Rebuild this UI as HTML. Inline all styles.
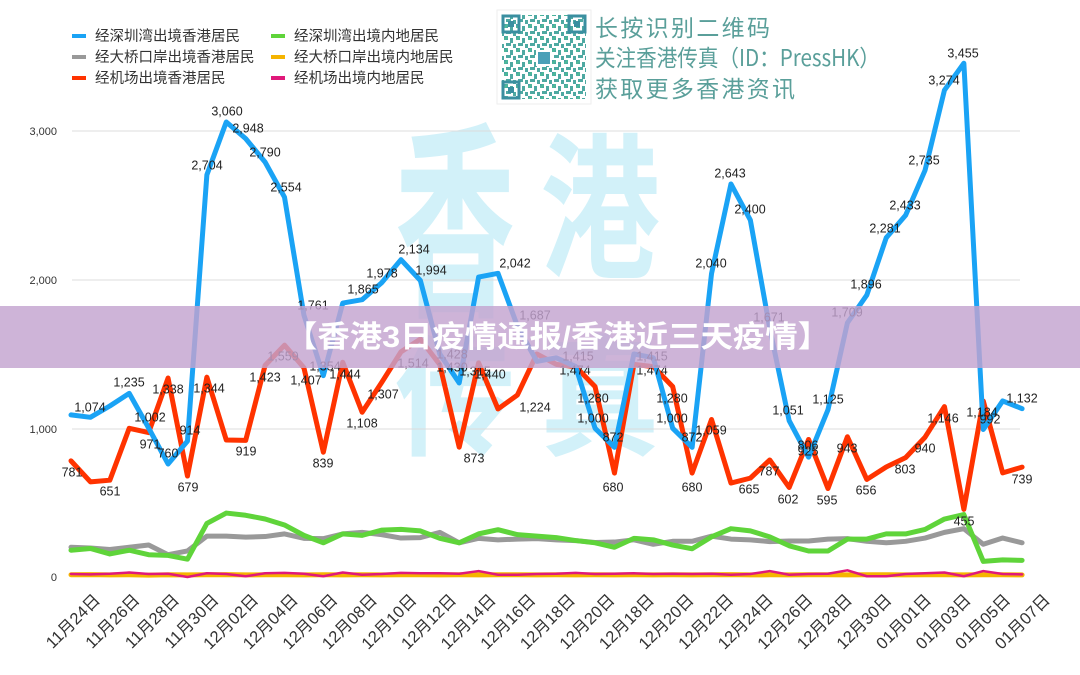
<!DOCTYPE html>
<html><head><meta charset="utf-8"><style>
html,body{margin:0;padding:0;background:#fff;}
svg{display:block;}
text{font-family:"Liberation Sans","Noto Sans CJK SC",sans-serif;}
.dl{font-size:12.5px;fill:#222;text-anchor:middle;dominant-baseline:middle;}
.xl{font-size:16.5px;fill:#333;text-anchor:end;}
.lg{font-size:14.5px;fill:#333;dominant-baseline:middle;}
</style></head><body>
<svg width="1080" height="675" viewBox="0 0 1080 675" xmlns="http://www.w3.org/2000/svg">
<rect width="1080" height="675" fill="#fff"/>
<g fill="#d2f1f9" font-weight="700">
<text x="0" y="0" font-size="120" transform="translate(395,300) scale(1,1.75)" style="font-family:'Noto Sans CJK SC',sans-serif">香</text>
<text x="0" y="0" font-size="120" transform="translate(540,265) scale(1,1.3)" style="font-family:'Noto Sans CJK SC',sans-serif">港</text>
<text x="0" y="0" font-size="120" transform="translate(395,445) scale(1,1.1)" style="font-family:'Noto Sans CJK SC',sans-serif">传</text>
<text x="0" y="0" font-size="120" transform="translate(540,445) scale(1,1.1)" style="font-family:'Noto Sans CJK SC',sans-serif">真</text>
</g>
<g stroke="#dcdcdc" stroke-width="1">
<line x1="72" y1="131" x2="1020" y2="131"/>
<line x1="72" y1="280" x2="1020" y2="280"/>
<line x1="72" y1="429" x2="1020" y2="429"/>
</g>
<g font-size="11" fill="#333" text-anchor="end">
<text x="57" y="135">3,000</text>
<text x="57" y="284">2,000</text>
<text x="57" y="433">1,000</text>
<text x="57" y="581">0</text>
</g>
<g transform="translate(71,577) scale(19.41,-0.1487)" fill="none" stroke-linejoin="round" stroke-linecap="round">
<polyline vector-effect="non-scaling-stroke" stroke="#f5b400" stroke-width="5" points="0,15 1,16 2,14 3,15 4,13 5,15 6,14 7,15 8,16 9,14 10,15 11,15 12,14 13,15 14,14 15,15 16,14 17,15 18,15 19,14 20,15 21,14 22,15 23,15 24,14 25,15 26,14 27,15 28,14 29,15 30,14 31,15 32,14 33,15 34,16 35,14 36,15 37,14 38,15 39,15 40,14 41,15 42,15 43,14 44,15 45,15 46,14 47,15 48,15 49,14"/>
<polyline vector-effect="non-scaling-stroke" stroke="#e0197a" stroke-width="2.5" points="0,20 1,18 2,22 3,30 4,20 5,22 6,0 7,25 8,20 9,5 10,25 11,28 12,22 13,5 14,30 15,15 16,20 17,28 18,25 19,25 20,22 21,40 22,15 23,15 24,20 25,22 26,28 27,20 28,22 29,25 30,20 31,22 32,20 33,22 34,15 35,20 36,40 37,15 38,20 39,22 40,45 41,5 42,5 43,20 44,25 45,30 46,5 47,40 48,20 49,18"/>
<polyline vector-effect="non-scaling-stroke" stroke="#999999" stroke-width="5" points="0,200 1,195 2,185 3,200 4,215 5,150 6,175 7,275 8,275 9,268 10,272 11,290 12,260 13,258 14,290 15,300 16,285 17,262 18,265 19,300 20,230 21,260 22,250 23,255 24,258 25,250 26,245 27,232 28,235 29,250 30,220 31,240 32,240 33,275 34,255 35,250 36,238 37,242 38,242 39,255 40,258 41,240 42,230 43,240 44,262 45,300 46,325 47,220 48,262 49,230"/>
<polyline vector-effect="non-scaling-stroke" stroke="#5fd43a" stroke-width="5" points="0,180 1,192 2,155 3,180 4,150 5,145 6,120 7,360 8,430 9,415 10,390 11,350 12,280 13,230 14,290 15,280 16,315 17,320 18,310 19,260 20,230 21,290 22,318 23,285 24,275 25,265 26,245 27,230 28,200 29,260 30,250 31,215 32,190 33,270 34,325 35,310 36,270 37,210 38,175 39,175 40,255 41,255 42,290 43,290 44,320 45,390 46,420 47,105 48,115 49,112"/>
<polyline vector-effect="non-scaling-stroke" stroke="#ff3300" stroke-width="5" points="0,781 1,640 2,651 3,1000 4,971 5,1338 6,679 7,1344 8,921 9,919 10,1423 11,1559 12,1407 13,839 14,1444 15,1108 16,1307 17,1514 18,1600 19,1428 20,873 21,1440 22,1130 23,1224 24,1500 25,1430 26,1415 27,1280 28,699 29,1430 30,1415 31,1280 32,699 33,1059 34,632 35,665 36,787 37,602 38,925 39,595 40,943 41,656 42,740 43,803 44,940 45,1146 46,455 47,1184 48,700 49,739"/>
<polyline vector-effect="non-scaling-stroke" stroke="#1aa3f5" stroke-width="5" points="0,1090 1,1074 2,1150 3,1235 4,1002 5,760 6,914 7,2704 8,3060 9,2948 10,2790 11,2554 12,1761 13,1354 14,1842 15,1865 16,1978 17,2134 18,1994 19,1500 20,1305 21,2017 22,2042 23,1687 24,1450 25,1474 26,1415 27,1000 28,872 29,1500 30,1474 31,1000 32,872 33,2040 34,2643 35,2400 36,1671 37,1051 38,806 39,1125 40,1709 41,1896 42,2281 43,2433 44,2735 45,3274 46,3455 47,992 48,1184 49,1132"/>
</g>
<g class="dl">
<text class="dl" x="90" y="408">1,074</text><text class="dl" x="129" y="383">1,235</text><text class="dl" x="150" y="418">1,002</text>
<text class="dl" x="168" y="390">1,338</text><text class="dl" x="150" y="445">971</text><text class="dl" x="168" y="454">760</text>
<text class="dl" x="190" y="431">914</text><text class="dl" x="209" y="389">1,344</text><text class="dl" x="72" y="473">781</text>
<text class="dl" x="110" y="492">651</text><text class="dl" x="188" y="488">679</text><text class="dl" x="246" y="452">919</text>
<text class="dl" x="265" y="378">1,423</text><text class="dl" x="306" y="381">1,407</text><text class="dl" x="323" y="464">839</text>
<text class="dl" x="345" y="375">1,444</text><text class="dl" x="362" y="424">1,108</text><text class="dl" x="383" y="395">1,307</text>
<text class="dl" x="474" y="459">873</text><text class="dl" x="490" y="375">1,440</text><text class="dl" x="535" y="408">1,224</text>
<text class="dl" x="283" y="357">1,559</text><text class="dl" x="325" y="367">1,354</text><text class="dl" x="413" y="364">1,514</text>
<text class="dl" x="452" y="355">1,428</text><text class="dl" x="452" y="368">1,430</text><text class="dl" x="475" y="372">1,315</text>
<text class="dl" x="227" y="112">3,060</text><text class="dl" x="248" y="129">2,948</text><text class="dl" x="265" y="153">2,790</text>
<text class="dl" x="207" y="166">2,704</text><text class="dl" x="286" y="188">2,554</text><text class="dl" x="414" y="250">2,134</text>
<text class="dl" x="382" y="274">1,978</text><text class="dl" x="431" y="271">1,994</text><text class="dl" x="363" y="290">1,865</text>
<text class="dl" x="515" y="264">2,042</text><text class="dl" x="313" y="306">1,761</text><text class="dl" x="535" y="316">1,687</text>
<text class="dl" x="730" y="174">2,643</text><text class="dl" x="750" y="210">2,400</text><text class="dl" x="711" y="264">2,040</text>
<text class="dl" x="866" y="285">1,896</text><text class="dl" x="885" y="229">2,281</text><text class="dl" x="905" y="206">2,433</text>
<text class="dl" x="924" y="161">2,735</text><text class="dl" x="944" y="81">3,274</text><text class="dl" x="963" y="54">3,455</text>
<text class="dl" x="847" y="313">1,709</text><text class="dl" x="769" y="318">1,671</text>
<text class="dl" x="578" y="357">1,415</text><text class="dl" x="575" y="371">1,474</text><text class="dl" x="593" y="399">1,280</text>
<text class="dl" x="593" y="419">1,000</text><text class="dl" x="613" y="438">872</text><text class="dl" x="613" y="488">680</text>
<text class="dl" x="652" y="357">1,415</text><text class="dl" x="652" y="371">1,474</text><text class="dl" x="672" y="399">1,280</text>
<text class="dl" x="672" y="419">1,000</text><text class="dl" x="692" y="438">872</text><text class="dl" x="692" y="488">680</text>
<text class="dl" x="711" y="431">1,059</text><text class="dl" x="749" y="490">665</text><text class="dl" x="769" y="472">787</text>
<text class="dl" x="788" y="500">602</text><text class="dl" x="788" y="411">1,051</text><text class="dl" x="808" y="446">806</text>
<text class="dl" x="808" y="452">925</text><text class="dl" x="828" y="400">1,125</text><text class="dl" x="827" y="501">595</text>
<text class="dl" x="847" y="449">943</text><text class="dl" x="866" y="491">656</text><text class="dl" x="905" y="470">803</text>
<text class="dl" x="925" y="449">940</text><text class="dl" x="943" y="419">1,146</text><text class="dl" x="964" y="522">455</text>
<text class="dl" x="982" y="413">1,184</text><text class="dl" x="990" y="420">992</text><text class="dl" x="1022" y="399">1,132</text>
<text class="dl" x="1022" y="480">739</text>
</g>
<g>
<text class="xl" transform="translate(101,601) rotate(-45)">11月24日</text>
<text class="xl" transform="translate(140.6,601) rotate(-45)">11月26日</text>
<text class="xl" transform="translate(180.2,601) rotate(-45)">11月28日</text>
<text class="xl" transform="translate(219.7,601) rotate(-45)">11月30日</text>
<text class="xl" transform="translate(259.3,601) rotate(-45)">12月02日</text>
<text class="xl" transform="translate(298.9,601) rotate(-45)">12月04日</text>
<text class="xl" transform="translate(338.5,601) rotate(-45)">12月06日</text>
<text class="xl" transform="translate(378.1,601) rotate(-45)">12月08日</text>
<text class="xl" transform="translate(417.6,601) rotate(-45)">12月10日</text>
<text class="xl" transform="translate(457.2,601) rotate(-45)">12月12日</text>
<text class="xl" transform="translate(496.8,601) rotate(-45)">12月14日</text>
<text class="xl" transform="translate(536.4,601) rotate(-45)">12月16日</text>
<text class="xl" transform="translate(576,601) rotate(-45)">12月18日</text>
<text class="xl" transform="translate(615.5,601) rotate(-45)">12月20日</text>
<text class="xl" transform="translate(655.1,601) rotate(-45)">12月18日</text>
<text class="xl" transform="translate(694.7,601) rotate(-45)">12月20日</text>
<text class="xl" transform="translate(734.3,601) rotate(-45)">12月22日</text>
<text class="xl" transform="translate(773.9,601) rotate(-45)">12月24日</text>
<text class="xl" transform="translate(813.4,601) rotate(-45)">12月26日</text>
<text class="xl" transform="translate(853,601) rotate(-45)">12月28日</text>
<text class="xl" transform="translate(892.6,601) rotate(-45)">12月30日</text>
<text class="xl" transform="translate(932.2,601) rotate(-45)">01月01日</text>
<text class="xl" transform="translate(971.8,601) rotate(-45)">01月03日</text>
<text class="xl" transform="translate(1011.3,601) rotate(-45)">01月05日</text>
<text class="xl" transform="translate(1050.9,601) rotate(-45)">01月07日</text>
</g>
<g stroke-width="4">
<line x1="72" y1="36" x2="86" y2="36" stroke="#1aa3f5"/>
<line x1="72" y1="57" x2="86" y2="57" stroke="#999"/>
<line x1="72" y1="78" x2="86" y2="78" stroke="#ff3300"/>
<line x1="271" y1="36" x2="285" y2="36" stroke="#5fd43a"/>
<line x1="271" y1="57" x2="285" y2="57" stroke="#f5b400"/>
<line x1="271" y1="78" x2="285" y2="78" stroke="#e0197a"/>
</g>
<text class="lg" x="95" y="37">经深圳湾出境香港居民</text>
<text class="lg" x="95" y="58">经大桥口岸出境香港居民</text>
<text class="lg" x="95" y="79">经机场出境香港居民</text>
<text class="lg" x="294" y="37">经深圳湾出境内地居民</text>
<text class="lg" x="294" y="58">经大桥口岸出境内地居民</text>
<text class="lg" x="294" y="79">经机场出境内地居民</text>
<defs>
<linearGradient id="qg" x1="0" y1="0" x2="1" y2="1"><stop offset="0" stop-color="#2f7fa8"/><stop offset="0.5" stop-color="#3cb88a"/><stop offset="1" stop-color="#2f8fa0"/></linearGradient>
<pattern id="qp" width="12" height="12" patternUnits="userSpaceOnUse">
<rect x="0" y="0" width="4" height="4" fill="url(#qg)"/><rect x="6" y="2" width="3" height="5" fill="#3a9f98"/><rect x="2" y="7" width="5" height="3" fill="#3a9f98"/><rect x="9" y="8" width="3" height="4" fill="#3a9f98"/>
</pattern>
</defs>
<rect x="497" y="10" width="94" height="94" fill="#fff" stroke="#eee"/>
<rect x="502" y="15" width="84" height="84" fill="url(#qp)" opacity="0.9"/>
<g fill="none" stroke="#3a8fa0" stroke-width="3">
<rect x="503" y="16" width="16" height="16"/><rect x="569" y="16" width="16" height="16"/><rect x="503" y="82" width="16" height="16"/>
</g>
<g fill="#3a8fa0"><rect x="508" y="21" width="6" height="6"/><rect x="574" y="21" width="6" height="6"/><rect x="508" y="87" width="6" height="6"/></g>
<rect x="536" y="50" width="16" height="16" fill="#fff"/><rect x="538" y="52" width="12" height="12" fill="#4aa0b8"/>
<g fill="#5a9f9a" font-size="23">
<text x="595" y="36" textLength="175" style="font-family:'Noto Sans CJK SC',sans-serif">长按识别二维码</text>
<text x="595" y="66" textLength="285" lengthAdjust="spacingAndGlyphs" style="font-family:'Noto Sans CJK SC',sans-serif">关注香港传真（ID：PressHK）</text>
<text x="595" y="97" textLength="200" style="font-family:'Noto Sans CJK SC',sans-serif">获取更多香港资讯</text>
</g>
<rect x="0" y="306" width="1080" height="62" fill="rgb(195,163,208)" opacity="0.82"/>
<text x="285" y="347" textLength="545" lengthAdjust="spacingAndGlyphs" font-size="30" font-weight="bold" fill="#fff" style="font-family:'Liberation Sans','Noto Sans CJK SC',sans-serif">【香港3日疫情通报/香港近三天疫情】</text>
</svg>
</body></html>
